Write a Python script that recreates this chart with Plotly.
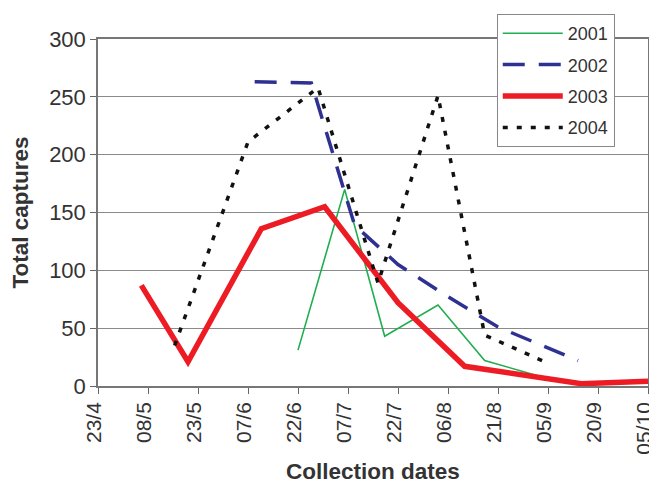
import plotly.graph_objects as go

# Tick labels (15-day intervals)
tick_dates = ["2003-04-23", "2003-05-08", "2003-05-23", "2003-06-07", "2003-06-22",
              "2003-07-07", "2003-07-22", "2003-08-06", "2003-08-21", "2003-09-05",
              "2003-09-20", "2003-10-05"]
tick_labels = ["23/4", "08/5", "23/5", "07/6", "22/6", "07/7", "22/7", "06/8",
               "21/8", "05/9", "20/9", "05/10"]

# Series (collection dates mapped on a common year)
d2001 = ["2003-06-22", "2003-07-06", "2003-07-18", "2003-08-03", "2003-08-17", "2003-09-03"]
v2001 = [31, 170, 43, 70, 22, 8]

d2002 = ["2003-06-09", "2003-06-26", "2003-07-09", "2003-07-22", "2003-08-05", "2003-08-21", "2003-09-14"]
v2002 = [263, 262, 139, 105, 79, 51, 22]

d2003 = ["2003-05-06", "2003-05-20", "2003-06-11", "2003-06-30", "2003-07-22", "2003-08-11", "2003-09-15", "2003-10-05"]
v2003 = [87, 21, 136, 155, 72, 17, 2, 4]

d2004 = ["2003-05-16", "2003-06-07", "2003-06-28", "2003-07-16", "2003-08-03", "2003-08-17", "2003-09-04"]
v2004 = [35, 211, 258, 89, 251, 44, 21]

FONT = "Liberation Sans, Arial, sans-serif"
GRID = "#8a8a8a"

fig = go.Figure()
fig.add_trace(go.Scatter(x=d2001, y=v2001, mode="lines", name="2001", legendgroup="a",
                         line=dict(color="#1fae4f", width=1.6)))
fig.add_trace(go.Scatter(x=d2002, y=v2002, mode="lines", name="2002", legendgroup="b",
                         line=dict(color="#2e3192", width=3.5, dash="22px,14px")))
fig.add_trace(go.Scatter(x=d2003, y=v2003, mode="lines", name="2003", legendgroup="c",
                         line=dict(color="#ed1c24", width=5.5)))
fig.add_trace(go.Scatter(x=d2004, y=v2004, mode="lines", name="2004", legendgroup="d",
                         line=dict(color="#111111", width=3.5, dash="5px,9px")))

fig.update_layout(
    width=649, height=482,
    margin=dict(l=90, r=9, t=31, b=104, autoexpand=False),
    paper_bgcolor="white", plot_bgcolor="white",
    font=dict(family=FONT, color="#333333", size=22),
    showlegend=True,
    legend=dict(x=0.725, y=1.072, xanchor="left", yanchor="top",
                bgcolor="white", bordercolor="#888888", borderwidth=1,
                font=dict(size=18, family=FONT), tracegroupgap=5, itemwidth=60),
    xaxis=dict(
        type="date", automargin=False,
        range=["2003-04-23", "2003-10-05"],
        tickmode="array", tickvals=tick_dates, ticktext=tick_labels,
        tickangle=-90, tickfont=dict(size=21, family=FONT),
        ticklabeloverflow="allow", ticklabelshift=-4,
        ticks="outside", ticklen=6, tickcolor="#666666",
        showline=True, linecolor="#777777", linewidth=1.5, mirror=True,
        showgrid=False, zeroline=False,
        title=dict(text="<b>Collection dates</b>", font=dict(size=22.5, family=FONT), standoff=10),
    ),
    yaxis=dict(
        automargin=False,
        range=[0, 300], tickmode="linear", tick0=0, dtick=50,
        tickfont=dict(size=22, family=FONT),
        ticks="outside", ticklen=6, tickcolor="#666666",
        showline=True, linecolor="#777777", linewidth=1.5, mirror=True,
        showgrid=True, gridcolor=GRID, gridwidth=1.2, zeroline=False,
        title=dict(text="<b>Total captures</b>", font=dict(size=22.5, family=FONT), standoff=14),
    ),
)

fig.write_html("out.html")
